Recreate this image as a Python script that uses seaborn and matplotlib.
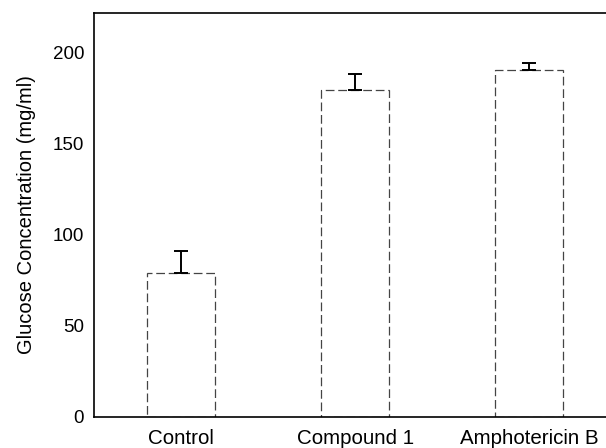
import numpy as np
import pandas as pd
import matplotlib
matplotlib.use("Agg")
import matplotlib.pyplot as plt
import seaborn as sns

groups = ["Control", "Compound 1", "Amphotericin B"]
glucose = [79, 179, 190]
glucose_err = [12, 9, 4]

df = pd.DataFrame({"group": groups, "glucose": glucose})

sns.set_style("white")
plt.rcParams["font.family"] = ["Liberation Sans", "DejaVu Sans"]
plt.rcParams["text.color"] = "black"
plt.rcParams["axes.labelcolor"] = "black"
plt.rcParams["xtick.color"] = "black"
plt.rcParams["ytick.color"] = "black"

fig = plt.figure(figsize=(6.06, 4.48), dpi=100)
ax = fig.add_axes([0.155, 0.07, 0.845, 0.901])

sns.barplot(data=df, x="group", y="glucose", order=groups, errorbar=None,
            fill=False, width=0.39, edgecolor="#444444", linewidth=0.9,
            linestyle=(0, (7, 3)), ax=ax)

ax.errorbar(np.arange(len(groups)), glucose,
            yerr=[np.zeros(len(groups)), glucose_err],
            fmt="none", ecolor="black", elinewidth=1.4, capsize=5, capthick=1.4)

ax.set_xlim(-0.5, 2.44)
ax.set_ylim(0, 221.5)
ax.set_yticks([0, 50, 100, 150, 200])
ax.tick_params(axis="x", length=0, labelsize=14.8, pad=9)
ax.tick_params(axis="y", length=0, labelsize=13.5, pad=7)
ax.set_xlabel("")
ax.set_ylabel("Glucose Concentration (mg/ml)", fontsize=14.5, labelpad=12)

for side in ["left", "bottom", "top"]:
    ax.spines[side].set_visible(True)
    ax.spines[side].set_color("black")
    ax.spines[side].set_linewidth(1.2)
ax.spines["right"].set_visible(False)

fig.savefig("out.png", dpi=100)
plt.close(fig)
